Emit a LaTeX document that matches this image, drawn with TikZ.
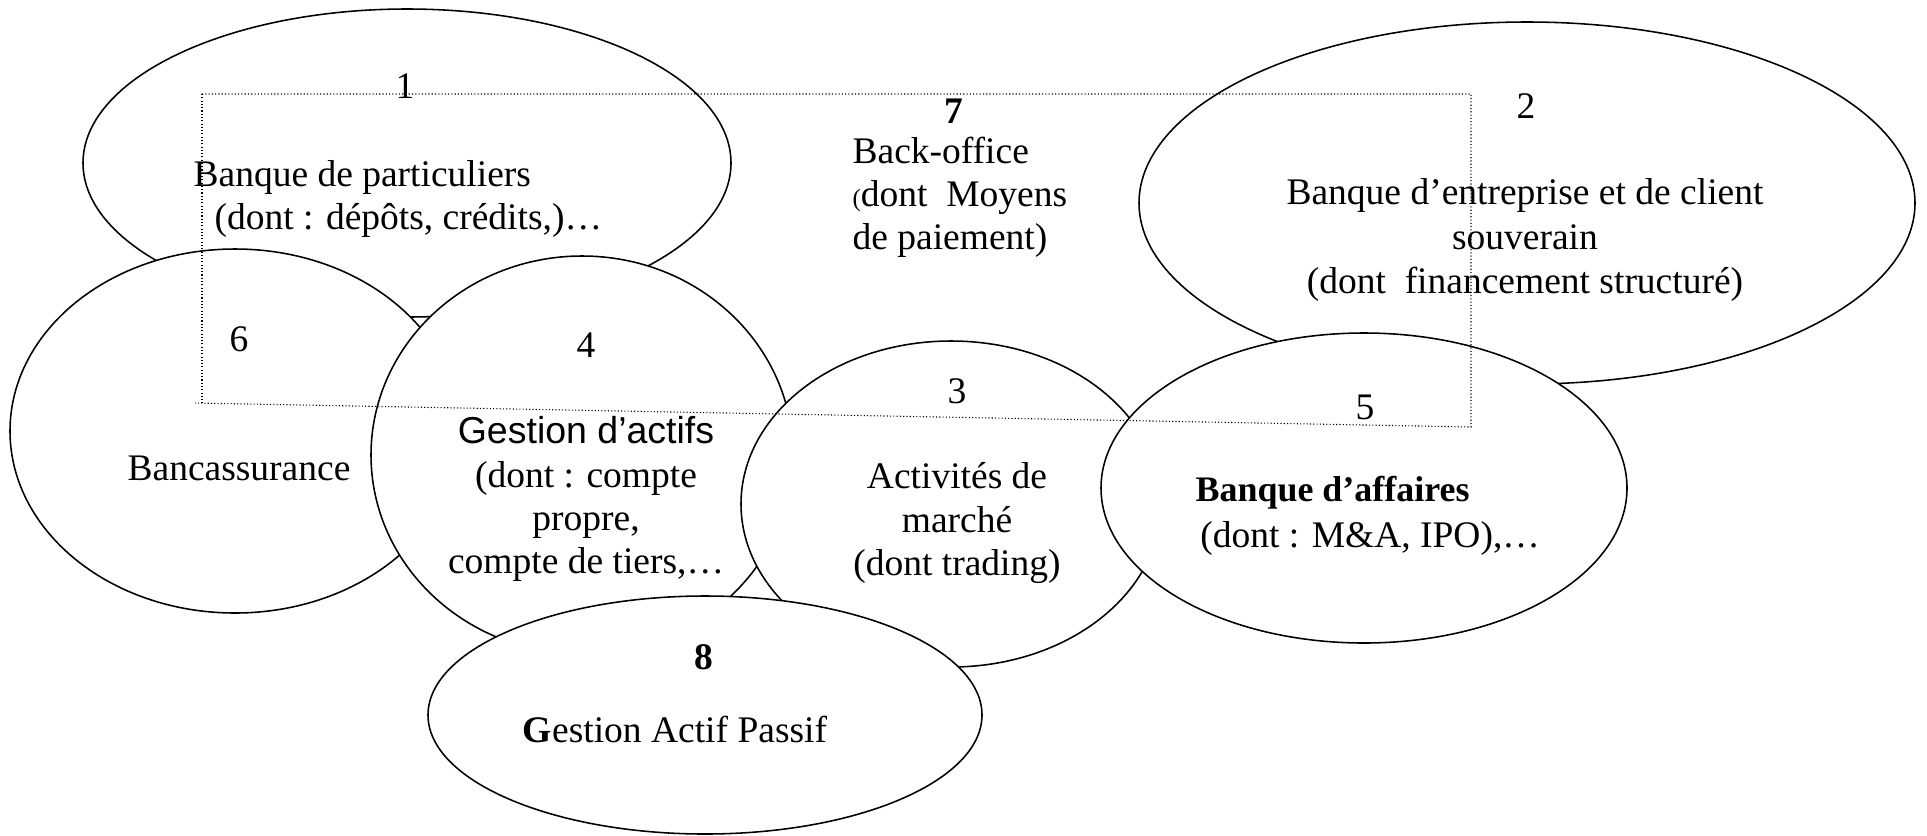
\documentclass[tikz,border=0pt]{standalone}
\usepackage{fontspec}
\setmainfont{Liberation Serif}
\newfontfamily\gestfont{Liberation Sans}

\begin{document}
\begin{tikzpicture}[x=0.32pt,y=0.32pt,yscale=-1,xscale=1]
\tikzset{bubble/.style={draw,fill=white,line width=0.5pt},
  txt/.style={inner sep=0pt,font=\fontsize{12}{13.8}\selectfont},
  boxline/.style={line width=0.35pt,dash pattern=on 0.35pt off 0.7pt}}
\path[use as bounding box] (0,0) rectangle (1927,835);

%Shape: Ellipse [1]
\draw[bubble] (407,163) ellipse (324 and 154);
%Shape: Ellipse [2]
\draw[bubble] (1527,203) ellipse (388 and 181);
%Shape: Ellipse [6]
\draw[bubble] (235,431) ellipse (225 and 182);
%Shape: Ellipse [4]
\draw[bubble] (582,455) ellipse (211 and 199);
%Shape: Ellipse [3]
\draw[bubble] (951,504) ellipse (210 and 163);
%Shape: Ellipse [5]
\draw[bubble] (1364,488) ellipse (263 and 155);
%Shape: Ellipse [8]
\draw[bubble] (705,715) ellipse (277 and 119);

%Dotted frame [7]
\draw[boxline] (202,94) -- (1471,94) -- (1471,427) -- (195,403);
\draw[boxline] (202,94) -- (202,403);

% Text Node
\node[txt] (n1) at (405,86) {1};
% Text Node
\node[txt,anchor=west,align=left] (t1) at (193,199) {Banque de particuliers\\\hspace*{6.7pt}(dont : dépôts, crédits,)…};
% Text Node
\node[txt] (n7) at (954,111) {\textbf{7}};
% Text Node
\node[txt,anchor=west,align=left] (t7) at (852,197) {Back-office\\{\footnotesize(}dont\ \ Moyens\\de paiement)};
% Text Node
\node[txt,align=center] (n2) at (1526,106) {2};
% Text Node
\node[txt,align=center,font=\fontsize{12}{14.2}\selectfont] (t2) at (1525,240) {Banque d’entreprise et de client\\souverain\\(dont\ \ financement structuré)};
% Text Node
\node[txt] (n6) at (239,339) {6};
% Text Node
\node[txt] (t6) at (239,468) {Bancassurance};
% Text Node
\node[txt] (n4) at (586,345) {4};
% Text Node
\node[txt,align=center] (t4) at (586,499) {{\gestfont Gestion d’actifs}\\(dont : compte\\propre,\\compte de tiers,…};
% Text Node
\node[txt] (n3) at (957,391) {3};
% Text Node
\node[txt,align=center] (t3) at (957,523) {Activités de\\marché\\(dont trading)};
% Text Node
\node[txt] (n5) at (1365,407) {5};
% Text Node
\node[txt,anchor=west,align=left] (t5) at (1195,516) {{\fontsize{11.5}{13}\selectfont\bfseries Banque d’affaires}\\[1pt]\hspace*{1.5pt}(dont : M\&A, IPO),…};
% Text Node
\node[txt] (n8) at (704,657) {\textbf{8}};
% Text Node
\node[txt] (t8) at (675,729) {\textbf{G}estion Actif Passif};

\end{tikzpicture}
\end{document}
